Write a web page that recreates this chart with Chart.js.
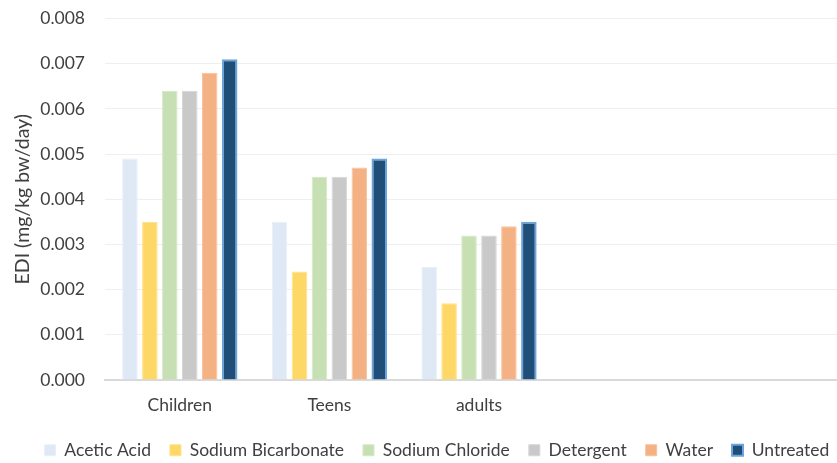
<!DOCTYPE html>
<html>
<head>
<meta charset="utf-8">
<script src="https://cdn.jsdelivr.net/npm/chart.js@4.4.0/dist/chart.umd.min.js"></script>
<style>
  html, body { margin: 0; padding: 0; background: #fff; overflow: hidden; }
  #wrap { position: absolute; left: 0; top: -12px; width: 874px; height: 481px; }
</style>
</head>
<body>
<div id="wrap"><canvas id="myChart"></canvas></div>
<script>
// groups on the x axis (two empty slots on the right, like the original sheet)
var categories = ["Children", "Teens", "adults", "", ""];

// EDI values (mg/kg bw/day) per treatment
var aceticAcid        = [0.0049, 0.0035, 0.0025, null, null];
var sodiumBicarbonate = [0.0035, 0.0024, 0.0017, null, null];
var sodiumChloride    = [0.0064, 0.0045, 0.0032, null, null];
var detergent         = [0.0064, 0.0045, 0.0032, null, null];
var water             = [0.0068, 0.0047, 0.0034, null, null];
var untreated         = [0.0071, 0.0049, 0.0035, null, null];

var yTicks = [0, 0.001, 0.002, 0.003, 0.004, 0.005, 0.006, 0.007, 0.008];

var FONT = "Lato";

function ds(label, values, fill, border, bw) {
  return {
    label: label,
    data: values,
    backgroundColor: fill,
    borderColor: border,
    borderWidth: bw,
    categoryPercentage: 0.8,
    barPercentage: 0.78
  };
}

var data = {
  labels: categories,
  datasets: [
    ds("Acetic Acid", aceticAcid, "#dee9f5", "#e9f0f9", 1),
    ds("Sodium Bicarbonate", sodiumBicarbonate, "#fed866", "#ffe28c", 1),
    ds("Sodium Chloride", sodiumChloride, "#c6e0b4", "#d4e8c6", 1),
    ds("Detergent", detergent, "#c9c9c9", "#d6d6d6", 1),
    ds("Water", water, "#f4b183", "#f7c29d", 1),
    ds("Untreated", untreated, "#1f4e79", "#6aa5dc", 2)
  ]
};

var chart = new Chart(document.getElementById("myChart"), {
  type: "bar",
  data: data,
  options: {
    responsive: true,
    maintainAspectRatio: false,
    animation: false,
    layout: { padding: { left: 21, right: 21, top: 7, bottom: 0 } },
    plugins: {
      tooltip: { enabled: false },
      legend: {
        position: "bottom",
        labels: {
          color: "#404040",
          font: { family: FONT, size: 17.5 },
          boxWidth: 11,
          boxHeight: 11,
          padding: 19
        }
      }
    },
    scales: {
      x: {
        grid: { display: false, drawTicks: false },
        border: { display: true, color: "#d9d9d9", width: 2 },
        ticks: {
          color: "#404040",
          font: { family: FONT, size: 17.5 },
          padding: 15,
          maxRotation: 0,
          autoSkip: false
        },
        afterFit: function (scale) { scale.height = 42.5; }
      },
      y: {
        min: 0,
        max: 0.008,
        afterBuildTicks: function (scale) {
          scale.ticks = yTicks.map(function (v) { return { value: v }; });
        },
        grid: { color: "#efefef", lineWidth: 1, drawTicks: false },
        border: { display: false },
        ticks: {
          color: "#404040",
          font: { family: FONT, size: 17.5 },
          padding: 20,
          callback: function (v) { return Number(v).toFixed(3); }
        },
        title: {
          display: true,
          text: "EDI (mg/kg bw/day)",
          color: "#404040",
          font: { family: FONT, size: 19.5 },
          padding: { top: -10, bottom: 0 }
        },
        afterFit: function (scale) { scale.width = 84; }
      }
    }
  }
});
</script>
</body>
</html>
